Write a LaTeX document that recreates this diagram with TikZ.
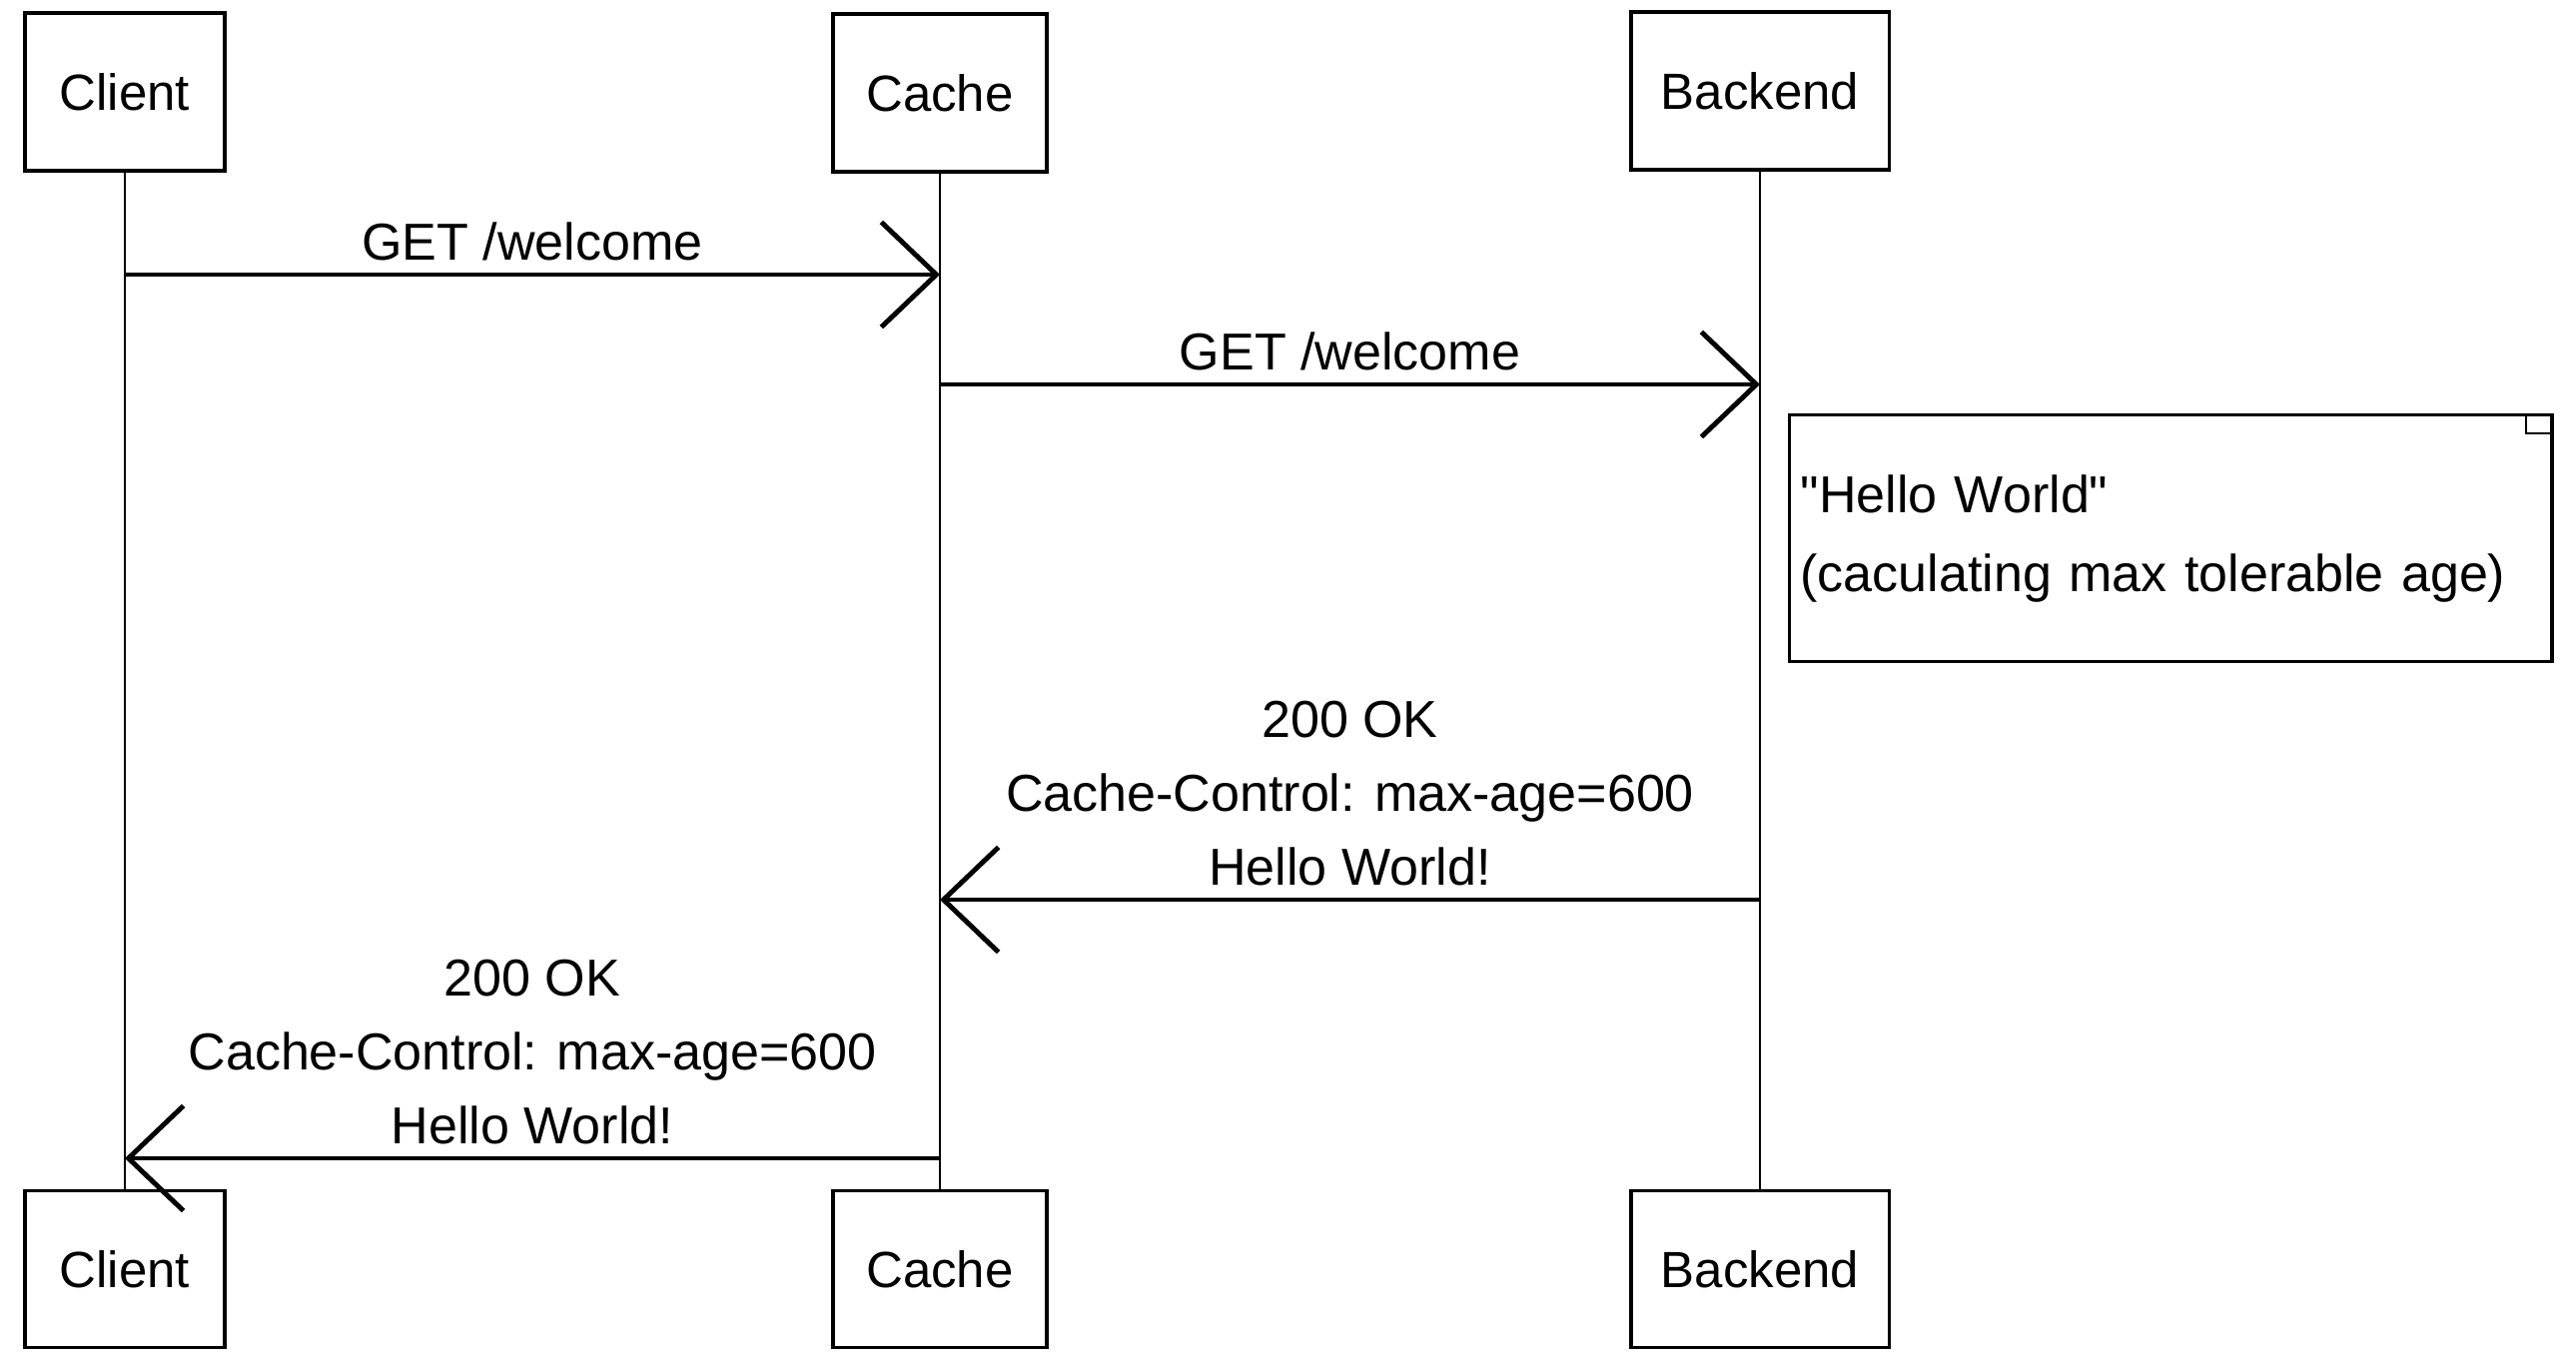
\documentclass[tikz,border=0pt]{standalone}
\usepackage{fontspec}
\setmainfont{Liberation Sans}[Ligatures=TeXOff]
\usetikzlibrary{arrows.meta,positioning}

\tikzset{
  actor/.style={draw, line width=0.9pt, minimum height=1.58cm, font=\fontsize{14.5}{17}\selectfont},
  life/.style={line width=0.6pt},
  msg/.style={line width=1.4pt, -{Straight Barb[length=0.55cm,width=1.05cm]}},
  msglabel/.style={midway, above, align=center, font=\fontsize{14.8}{21}\selectfont},
  notebox/.style={draw, line width=0.9pt, anchor=north west, minimum width=7.63cm, minimum height=2.47cm,
    inner xsep=0.11cm, text width=7.41cm, align=left, font=\fontsize{14.8}{22.5}\selectfont},
}

\begin{document}
\begin{tikzpicture}[x=0.01cm, y=-0.01cm]
\useasboundingbox (0,0) rectangle (2579,1354);

% participants, top and bottom
\node[actor, minimum width=2cm] (clientTop) at (125,92) {Client};
\node[actor, minimum width=2.14cm] (cacheTop) at (941,93) {Cache};
\node[actor, minimum width=2.58cm] (backendTop) at (1762,91) {Backend};
\node[actor, minimum width=2cm, minimum height=1.57cm] (clientBot) at (125,1271) {Client};
\node[actor, minimum width=2.14cm, minimum height=1.57cm] (cacheBot) at (941,1271) {Cache};
\node[actor, minimum width=2.58cm, minimum height=1.57cm] (backendBot) at (1762,1271) {Backend};

% lifelines
\draw[life] (clientTop) -- (clientBot);
\draw[life] (cacheTop) -- (cacheBot);
\draw[life] (backendTop) -- (backendBot);

% message ends
\coordinate (reqA) at (clientTop.center |- 0,275);
\coordinate (reqB) at (cacheTop.center |- 0,275);
\coordinate (fwdA) at (cacheTop.center |- 0,385);
\coordinate (fwdB) at (backendTop.center |- 0,385);
\coordinate (respA) at (backendTop.center |- 0,901);
\coordinate (respB) at (cacheTop.center |- 0,901);
\coordinate (replyA) at (cacheTop.center |- 0,1160);
\coordinate (replyB) at (clientTop.center |- 0,1160);

\draw[msg] (reqA) -- (reqB) node[msglabel] {GET /welcome};
\draw[msg] (fwdA) -- (fwdB) node[msglabel] {GET /welcome};

\node[notebox] (note) at (1790,414) {"Hello World"\\(caculating max tolerable age)};
\draw[line width=0.6pt] ([xshift=-0.28cm]note.north east) |- ([yshift=-0.2cm]note.north east);

\draw[msg] (respA) -- (respB) node[msglabel] {200 OK\\Cache-Control: max-age=600\\Hello World!};
\draw[msg] (replyA) -- (replyB) node[msglabel] {200 OK\\Cache-Control: max-age=600\\Hello World!};
\end{tikzpicture}
\end{document}
